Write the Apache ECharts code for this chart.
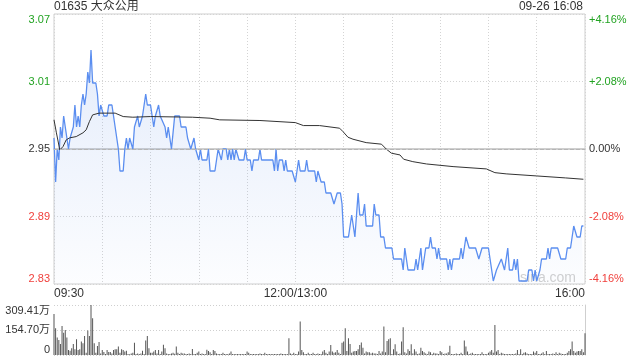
<!DOCTYPE html>
<html><head><meta charset="utf-8">
<script src="https://cdn.jsdelivr.net/npm/echarts@6/dist/echarts.min.js"></script>
<style>html,body{margin:0;padding:0;background:#fff}#c{width:640px;height:360px}</style>
</head><body><div id="c"></div>
<script>
const titleText = '01635 大众公用';
const stampText = '09-26 16:08';
const watermarkText = 'sina.com';
const prevClose = 2.95;
const pctTicks = [-4.16, -2.08, 0, 2.08, 4.16];
const priceTickLabels = ['2.83', '2.89', '2.95', '3.01', '3.07'];
const pctTickLabels = ['-4.16%', '-2.08%', '0.00%', '+2.08%', '+4.16%'];
const timeTicks = [0, 150, 330];
const timeTickLabels = ['09:30', '12:00/13:00', '16:00'];
const volMax = 309.41;
const volTickLabels = ['0', '154.70万', '309.41万'];

// [minute since 09:30 (lunch removed), price]
const pricePoints = [[0,2.96],[1,2.92],[2,2.95],[3,2.94],[4,2.97],[5,2.96],[6,2.98],[7,2.98],[8,2.96],[9,2.95],[10,2.96],[11,2.96],[12,2.97],[13,2.99],[14,2.97],[15,2.98],[16,2.97],[17,2.99],[18,3.00],[19,2.99],[20,3.00],[21,3.02],[22,3.01],[23,3.04],[24,3.01],[26,3.01],[27,3.00],[28,2.98],[29,2.99],[30,2.99],[31,2.98],[33,2.98],[34,2.99],[36,2.99],[38,2.97],[40,2.95],[41,2.93],[43,2.93],[44,2.95],[45,2.96],[46,2.95],[47,2.96],[48,2.96],[49,2.95],[50,2.97],[51,2.97],[52,2.98],[53,2.97],[54,2.97],[55,2.98],[57,3.00],[58,2.99],[60,2.99],[61,2.98],[62,2.97],[63,2.98],[65,2.99],[66,2.98],[69,2.97],[70,2.96],[71,2.97],[72,2.96],[73,2.95],[74,2.95],[75,2.98],[78,2.98],[79,2.97],[82,2.97],[83,2.96],[84,2.96],[85,2.95],[86,2.95],[87,2.96],[88,2.95],[89,2.95],[90,2.94],[91,2.95],[92,2.94],[95,2.94],[96,2.95],[97,2.93],[100,2.93],[101,2.94],[102,2.95],[103,2.95],[104,2.94],[105,2.95],[107,2.95],[108,2.94],[109,2.95],[110,2.94],[111,2.95],[112,2.94],[113,2.95],[114,2.95],[115,2.94],[118,2.94],[119,2.95],[120,2.94],[122,2.94],[123,2.93],[124,2.94],[127,2.94],[128,2.95],[129,2.94],[136,2.94],[137,2.93],[138,2.95],[139,2.93],[140,2.94],[142,2.94],[143,2.93],[144,2.94],[145,2.93],[148,2.93],[150,2.92],[151,2.93],[152,2.94],[153,2.93],[156,2.93],[157,2.94],[158,2.93],[162,2.93],[163,2.92],[164,2.93],[165,2.93],[166,2.92],[168,2.92],[169,2.91],[172,2.91],[174,2.90],[175,2.90],[176,2.91],[178,2.91],[179,2.90],[180,2.87],[183,2.87],[184,2.88],[185,2.89],[187,2.87],[188,2.89],[189,2.91],[190,2.89],[192,2.89],[193,2.90],[194,2.88],[198,2.88],[199,2.90],[200,2.89],[202,2.89],[203,2.87],[205,2.87],[206,2.86],[210,2.86],[211,2.85],[216,2.85],[217,2.84],[218,2.86],[219,2.85],[220,2.84],[224,2.84],[225,2.85],[226,2.84],[228,2.86],[229,2.84],[230,2.85],[231,2.86],[233,2.86],[234,2.87],[235,2.86],[237,2.86],[238,2.85],[239,2.86],[240,2.85],[244,2.85],[245,2.84],[246,2.85],[247,2.84],[248,2.85],[252,2.85],[253,2.86],[254,2.85],[255,2.86],[256,2.87],[257,2.87],[258,2.86],[262,2.86],[264,2.85],[266,2.86],[270,2.86],[271,2.85],[272,2.84],[273,2.83],[275,2.84],[276,2.84],[278,2.85],[279,2.85],[280,2.84],[281,2.85],[282,2.86],[283,2.84],[285,2.84],[286,2.85],[287,2.84],[288,2.85],[289,2.83],[294,2.83],[295,2.84],[297,2.84],[298,2.83],[299,2.84],[300,2.83],[302,2.84],[303,2.85],[306,2.85],[307,2.86],[308,2.85],[309,2.86],[313,2.86],[315,2.85],[318,2.85],[319,2.86],[321,2.86],[322,2.87],[323,2.88],[325,2.87],[327,2.87],[328,2.88],[329,2.88]];

// [minute, average price]
const avgPoints = [[0,2.9765],[1.5,2.9647],[3.6,2.9492],[5.6,2.9522],[7.6,2.9583],[9.7,2.9601],[13.8,2.9613],[18,2.9647],[20,2.9674],[22,2.9749],[24,2.9810],[28,2.9826],[38,2.9826],[43,2.9795],[49,2.9789],[60,2.9795],[86,2.9789],[97,2.9780],[103,2.9765],[128,2.9759],[150,2.9740],[155,2.9713],[165,2.9713],[177.5,2.9689],[179.6,2.9658],[182.7,2.9607],[185.8,2.9589],[194,2.9558],[203.5,2.9544],[206.6,2.9498],[209.7,2.9462],[215,2.9446],[217.3,2.9407],[223,2.9385],[231.5,2.9364],[248,2.9340],[268.7,2.9319],[274,2.9285],[281,2.9274],[300,2.9255],[318,2.9237],[329,2.9225]];

// volume per minute (万股), index = minute
const volumes = [254,165,109,93,68,179,138,155,109,31,27,41,68,35,97,31,35,83,72,118,14,151,118,309.41,227,72,14,56,80,10,31,19,6,31,19,19,10,31,35,35,52,14,35,31,21,27,6,4,10,14,76,6,10,6,10,27,6,89,118,41,14,14,21,31,10,31,6,21,64,41,10,6,6,10,14,8,52,14,6,14,10,10,
6,6,10,6,37,6,6,14,21,6,10,6,6,33,25,17,6,31,25,10,6,6,6,14,6,6,6,10,21,6,6,6,6,6,6,6,6,6,21,14,6,6,6,6,6,6,10,6,6,14,6,6,6,6,6,6,6,6,6,10,6,6,6,6,103,10,6,14,6,6,21,208,31,17,6,6,14,6,6,14,6,6,10,6,
6,21,31,14,6,21,62,21,14,17,31,14,6,76,83,165,25,103,68,14,21,25,25,35,62,78,45,10,21,17,17,10,14,10,10,6,25,10,21,177,17,87,97,103,6,35,66,21,6,10,83,171,17,10,35,25,66,10,35,21,6,10,45,25,17,10,6,21,17,6,14,10,10,6,25,17,6,10,10,17,58,6,6,6,
10,6,6,14,6,89,52,21,6,10,14,6,6,6,6,6,17,6,6,6,14,21,31,14,186,21,31,6,14,10,6,6,6,6,6,6,6,10,31,6,35,6,14,17,10,6,6,6,21,14,25,6,6,10,17,6,25,6,6,6,10,6,17,6,14,10,6,6,6,14,25,35,83,25,14,21,25,25,35,17,134];

const toPct = p => (p - prevClose) / prevClose * 100;
const tickIndex = (arr, v) => { let b = 0; for (let i = 1; i < arr.length; i++) if (Math.abs(arr[i] - v) < Math.abs(arr[b] - v)) b = i; return b; };
const clsOf = i => i < 2 ? 'r' : (i === 2 ? 'n' : 'g');
const richStyle = {
  r: { color: '#f0403c', fontSize: 11, fontFamily: 'Liberation Sans, Arial, sans-serif' },
  g: { color: '#22a322', fontSize: 11, fontFamily: 'Liberation Sans, Arial, sans-serif' },
  n: { color: '#333', fontSize: 11, fontFamily: 'Liberation Sans, Arial, sans-serif' }
};
const FONT = 'Liberation Sans, Arial, "Noto Sans CJK SC", sans-serif';

const chart = echarts.init(document.getElementById('c'), null, { renderer: 'canvas' });
chart.setOption({
  animation: false,
  backgroundColor: '#fff',
  textStyle: { fontFamily: FONT },
  grid: [
    { left: 54, right: 55, top: 14, height: 270, show: true, borderColor: '#cfcfcf', borderWidth: 1 },
    { left: 54, right: 55, top: 305, height: 50 }
  ],
  xAxis: [
    { gridIndex: 0, type: 'value', min: 0, max: 330, interval: 30,
      axisLine: { show: true, lineStyle: { color: '#cfcfcf', width: 2 } },
      axisTick: { show: false },
      splitLine: { show: true, lineStyle: { color: '#d4d4d4', type: [1, 2] } },
      axisLabel: { show: true, color: '#333', fontSize: 12, margin: 4, fontFamily: FONT,
        alignMinLabel: 'left', alignMaxLabel: 'right', showMinLabel: true, showMaxLabel: true,
        formatter: v => { const i = timeTicks.indexOf(Math.round(v)); return i >= 0 ? timeTickLabels[i] : ''; } } },
    { gridIndex: 1, type: 'value', min: 0, max: 330, interval: 30,
      axisLine: { show: false }, axisTick: { show: false }, splitLine: { show: false }, axisLabel: { show: false } }
  ],
  yAxis: [
    { gridIndex: 0, type: 'value', position: 'left', min: -4.16, max: 4.16, interval: 2.08,
      axisLine: { show: false }, axisTick: { show: false },
      splitLine: { show: true, lineStyle: { color: '#d4d4d4', type: [1, 2] } },
      axisLabel: { margin: 4, verticalAlignMinLabel: 'bottom', verticalAlignMaxLabel: 'top',
        formatter: v => { const i = tickIndex(pctTicks, v); return '{' + clsOf(i) + '|' + priceTickLabels[i] + '}'; },
        rich: richStyle } },
    { gridIndex: 0, type: 'value', position: 'right', min: -4.16, max: 4.16, interval: 2.08,
      axisLine: { show: false }, axisTick: { show: false }, splitLine: { show: false },
      axisLabel: { margin: 4, verticalAlignMinLabel: 'bottom', verticalAlignMaxLabel: 'top',
        formatter: v => { const i = tickIndex(pctTicks, v); return '{' + clsOf(i) + '|' + pctTickLabels[i] + '}'; },
        rich: richStyle } },
    { gridIndex: 1, type: 'value', position: 'left', min: 0, max: volMax, interval: volMax / 2,
      axisLine: { show: false }, axisTick: { show: false },
      splitLine: { show: true, lineStyle: { color: '#cfcfcf', type: [1, 2] } },
      axisLabel: { margin: 4, color: '#333', fontSize: 11, fontFamily: FONT,
        verticalAlignMinLabel: 'bottom', verticalAlignMaxLabel: 'top',
        formatter: v => volTickLabels[tickIndex([0, volMax / 2, volMax], v)] } },
    { gridIndex: 1, type: 'value', position: 'right', min: 0, max: volMax,
      axisLine: { show: true, lineStyle: { color: '#cfcfcf', width: 1 } },
      axisTick: { show: false }, splitLine: { show: false }, axisLabel: { show: false } }
  ],
  graphic: [
    { type: 'text', left: 54, top: 1, style: { text: titleText, fill: '#333', font: '12px ' + FONT } },
    { type: 'text', right: 57, top: 1, style: { text: stampText, fill: '#333', font: '12px ' + FONT } },
    { type: 'text', right: 64, top: 271, z: -10, style: { text: watermarkText, fill: '#d0d0d0', font: '14px ' + FONT } }
  ],
  series: [
    { type: 'line', xAxisIndex: 0, yAxisIndex: 0, showSymbol: false, z: 3,
      data: pricePoints.map(d => [d[0], toPct(d[1])]),
      lineStyle: { color: '#5b8ef0', width: 1.3 },
      areaStyle: { origin: 'start', color: new echarts.graphic.LinearGradient(0, 0, 0, 1, [
        { offset: 0, color: 'rgba(120,160,235,0.28)' }, { offset: 1, color: 'rgba(120,160,235,0.03)' }]) },
      markLine: { silent: true, symbol: 'none', label: { show: false },
        lineStyle: { color: '#b5b5b5', type: [4, 2], width: 1 }, data: [{ yAxis: 0 }] } },
    { type: 'line', xAxisIndex: 0, yAxisIndex: 0, showSymbol: false, z: 4,
      data: avgPoints.map(d => [d[0], toPct(d[1])]),
      lineStyle: { color: '#333', width: 1 } },
    { type: 'bar', xAxisIndex: 1, yAxisIndex: 2, barWidth: 1, z: 3,
      data: volumes.map((v, i) => [i, v]),
      itemStyle: { color: '#555' } }
  ]
});
</script></body></html>
